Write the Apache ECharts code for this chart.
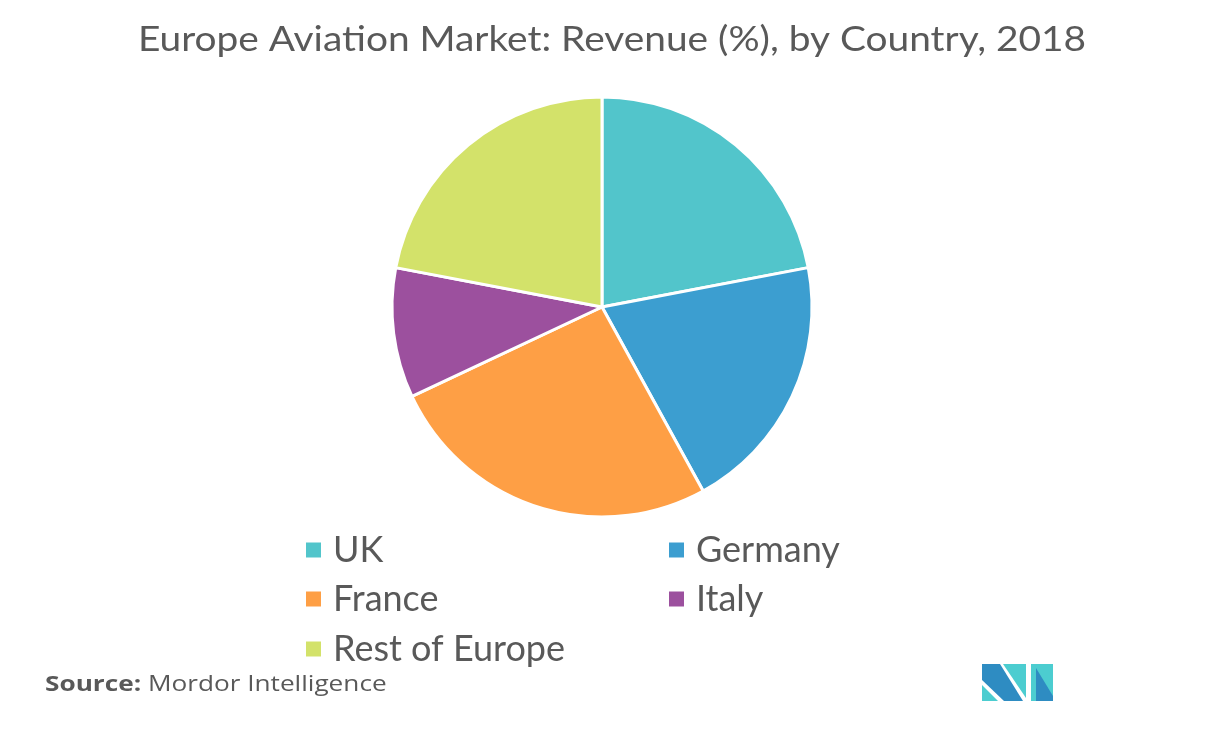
<!DOCTYPE html>
<html>
<head>
<meta charset="utf-8">
<script src="https://cdn.jsdelivr.net/npm/echarts@6/dist/echarts.min.js"></script>
<style>
html,body{margin:0;padding:0;background:#fff;}
#chart{width:1226px;height:736px;}
</style>
</head>
<body>
<div id="chart"></div>
<script>
const titleText = 'Europe Aviation Market: Revenue (%), by Country, 2018';
const categories = ['UK', 'Germany', 'France', 'Italy', 'Rest of Europe'];
const values = [22, 20, 26, 10, 22];
const colors = ['#52c5cb', '#3c9ed0', '#fe9f45', '#9c509e', '#d3e26a'];
const sourceLabel = 'Source:';
const sourceName = 'Mordor Intelligence';

const chart = echarts.init(document.getElementById('chart'), null, {renderer: 'canvas'});

const legendPos = [
  {left: 304, top: 530},
  {left: 667, top: 530},
  {left: 304, top: 579},
  {left: 667, top: 579},
  {left: 304, top: 629}
];
const legends = categories.map((c, i) => ({
  data: [c],
  left: legendPos[i].left,
  top: legendPos[i].top,
  padding: 0,
  icon: 'rect',
  itemWidth: 17,
  itemHeight: 17,
  selectedMode: false,
  textStyle: {fontFamily: 'Lato', fontSize: 36, lineHeight: 40, color: '#595959', padding: [0, 0, 0, 6]}
}));

chart.setOption({
  backgroundColor: '#ffffff',
  animation: false,
  legend: legends,
  series: [{
    type: 'pie',
    center: [602, 307],
    radius: [0, 210],
    startAngle: 90,
    clockwise: true,
    label: {show: false},
    labelLine: {show: false},
    itemStyle: {borderColor: '#ffffff', borderWidth: 3},
    emphasis: {disabled: true},
    data: categories.map((c, i) => ({name: c, value: values[i], itemStyle: {color: colors[i]}}))
  }],
  graphic: [
    {
      type: 'text', x: 612, y: 22, scaleX: 1.11,
      style: {
        text: titleText, x: 0, y: 0, align: 'center', verticalAlign: 'top',
        fontFamily: 'Lato', fontSize: 35, fill: '#595959'
      }
    },
    {
      type: 'text', x: 45, y: 674, scaleX: 1.19,
      style: {
        text: '{b|' + sourceLabel + '} ' + sourceName,
        fontFamily: 'Open Sans', fontSize: 22, fill: '#595959',
        rich: {b: {fontFamily: 'Open Sans', fontSize: 22, fontWeight: 'bold', fill: '#595959'}}
      }
    },
    {type: 'polygon', shape: {points: [[982,664],[1000,664],[1023,701],[1004,701],[982,680]]}, style: {fill: '#2e8cc2'}},
    {type: 'polygon', shape: {points: [[982,685],[982,701],[998,701]]}, style: {fill: '#4ccdd0'}},
    {type: 'polygon', shape: {points: [[1003,664],[1026,664],[1026,698]]}, style: {fill: '#4ccdd0'}},
    {type: 'polygon', shape: {points: [[1031,664],[1053,664],[1053,701],[1031,701]]}, style: {fill: '#4ccdd0'}},
    {type: 'polygon', shape: {points: [[1036,668],[1053,696],[1053,701],[1036,701]]}, style: {fill: '#2e8cc2'}}
  ]
});
</script>
</body>
</html>
